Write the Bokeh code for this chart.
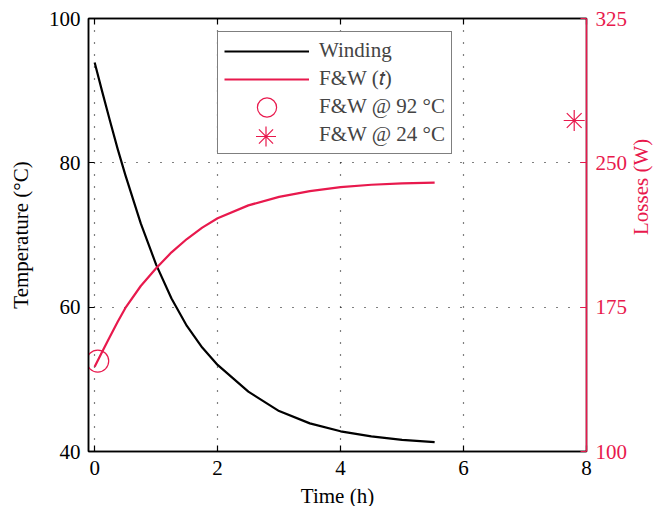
import math
from bokeh.plotting import figure
from bokeh.models import LinearAxis, Range1d, Legend, LegendItem, FixedTicker
from bokeh.embed import file_html
from bokeh.resources import INLINE

# ---- data ----
time_h = [0.0, 0.125, 0.25, 0.375, 0.5, 0.75, 1.0, 1.25, 1.5, 1.75, 2.0, 2.5, 3.0, 3.5, 4.0, 4.5, 5.0, 5.53]
winding_temp = [93.9, 89.8, 85.8, 81.9, 78.3, 71.6, 65.9, 61.2, 57.4, 54.4, 52.0, 48.3, 45.6, 43.9, 42.8, 42.1, 41.6, 41.3]
fw_loss = [144.0, 152.0, 159.8, 167.4, 174.6, 186.0, 195.2, 203.5, 210.4, 216.3, 221.2, 227.9, 232.3, 235.3, 237.4, 238.6, 239.3, 239.7]
fw92_time = [0.05]
fw92_loss = [147.0]
fw24_time = [7.8]
fw24_loss = [272.0]

x_ticks = [0, 2, 4, 6, 8]
temp_ticks = [40, 60, 80, 100]
loss_ticks = [100, 175, 250, 325]

RED = "#E8194D"
FONT = "Liberation Serif"
FS = "21px"

p = figure(frame_width=498, frame_height=433, output_backend="svg", toolbar_location=None,
           x_range=Range1d(-0.1, 8), y_range=Range1d(40, 100),
           min_border_left=88, min_border_right=72, min_border_top=18, min_border_bottom=55,
           background_fill_color="white", border_fill_color="white")
p.extra_y_ranges = {"loss": Range1d(100, 325)}
p.outline_line_color = "black"
p.outline_line_width = 1.5

def style_axis(ax, color="black"):
    ax.axis_line_color = color
    ax.axis_line_width = 1.5
    ax.major_tick_line_color = color
    ax.major_tick_line_width = 1.2
    ax.major_tick_in = 6
    ax.major_tick_out = 0
    ax.minor_tick_line_color = None
    ax.major_label_text_font = FONT
    ax.major_label_text_font_size = FS
    ax.major_label_text_color = color
    ax.axis_label_text_font = FONT
    ax.axis_label_text_font_size = FS
    ax.axis_label_text_font_style = "normal"
    ax.axis_label_text_color = color

# bottom axis
xa = p.xaxis[0]
xa.ticker = FixedTicker(ticks=x_ticks)
xa.axis_label = "Time (h)"
style_axis(xa)
xa.major_label_standoff = 9
xa.axis_label_standoff = 6

# left axis
ya = p.yaxis[0]
ya.ticker = FixedTicker(ticks=temp_ticks)
ya.axis_label = "Temperature (°C)"
style_axis(ya)
ya.major_label_standoff = 8
ya.axis_label_standoff = 13

# right axis
ra = LinearAxis(y_range_name="loss", ticker=FixedTicker(ticks=loss_ticks), axis_label="Losses (W)")
style_axis(ra, RED)
ra.major_label_standoff = 9
ra.axis_label_standoff = 11
ra.axis_label_orientation = math.pi / 2
ra.axis_label_text_align = "center"
p.add_layout(ra, "right")

# top axis (ticks only)
ta = LinearAxis(ticker=FixedTicker(ticks=x_ticks))
style_axis(ta)
ta.major_label_text_color = None
ta.major_label_text_font_size = "1px"
ta.major_label_standoff = 0
p.add_layout(ta, "above")

for g in (p.xgrid[0], p.ygrid[0]):
    g.grid_line_color = "black"
    g.grid_line_dash = "1 11"
    g.grid_line_width = 1.2

r_wind = p.line(time_h, winding_temp, line_color="black", line_width=2.2, line_join="round")
r_fw = p.line(time_h, fw_loss, line_color=RED, line_width=2.2, line_join="round", y_range_name="loss")
r_c = p.ellipse(x=fw92_time, y=fw92_loss, width=22, height=22, width_units="screen",
                height_units="screen", fill_color=None, line_color=RED, line_width=1.2,
                y_range_name="loss")
r_s = p.scatter(fw24_time, fw24_loss, marker="asterisk", size=21,
                line_color=RED, line_width=1.2, y_range_name="loss")
# placeholder (draws nothing) so the 4th row of the boxed legend holds its label
r_s_ph = p.line(fw24_time, fw24_loss, line_alpha=0, y_range_name="loss")

legend = Legend(items=[
    LegendItem(label="Winding", renderers=[r_wind]),
    LegendItem(label="F&W (𝑡)", renderers=[r_fw]),
    LegendItem(label="F&W @ 92 °C", renderers=[r_c]),
    LegendItem(label="F&W @ 24 °C", renderers=[r_s_ph]),
], location=(129, 297))
legend.label_text_font = FONT
legend.label_text_font_size = FS
legend.glyph_width = 85
legend.glyph_height = 24
legend.label_height = 24
legend.label_standoff = 10
legend.spacing = 3
legend.padding = 6
legend.margin = 0
legend.border_line_color = "black"
legend.border_line_width = 1.5
legend.background_fill_color = "white"
legend.background_fill_alpha = 1.0
p.add_layout(legend, "center")

# overlay legend that draws the asterisk sample at full size in row 4
legend2 = Legend(items=[LegendItem(label=" ", renderers=[r_s])], location=(135, 290))
legend2.glyph_width = 85
legend2.glyph_height = 50
legend2.label_height = 50
legend2.label_standoff = 0
legend2.label_text_color = None
legend2.label_text_font_size = FS
legend2.padding = 0
legend2.spacing = 0
legend2.margin = 0
legend2.border_line_color = None
legend2.background_fill_alpha = 0
p.add_layout(legend2, "center")

open("out.html", "w").write(file_html(p, INLINE))
